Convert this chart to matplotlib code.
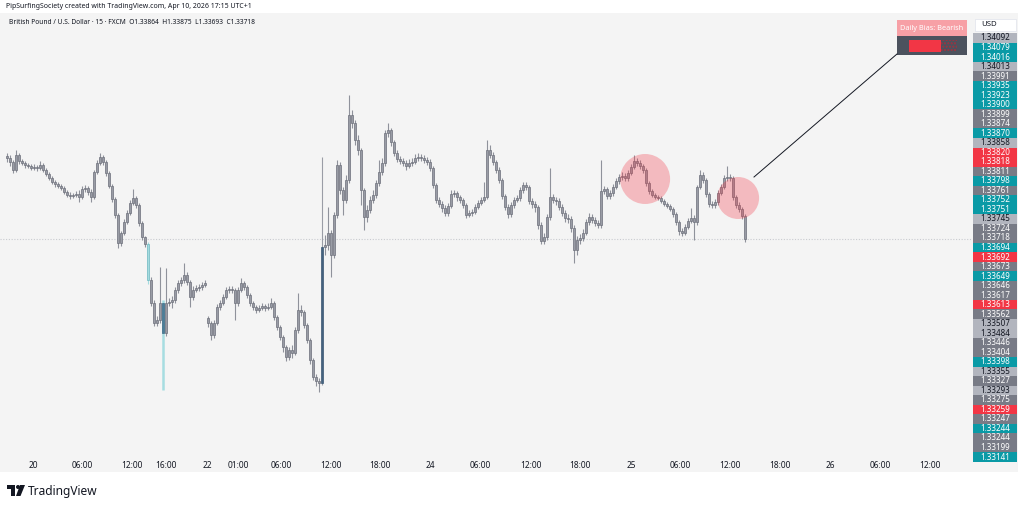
import matplotlib
matplotlib.use('Agg')
import matplotlib.pyplot as plt
from matplotlib.patches import Rectangle, Ellipse
from matplotlib.lines import Line2D
import matplotlib.transforms as mtransforms

plt.rcParams['font.family'] = ['Noto Sans', 'DejaVu Sans']

# ─── DATA (GBPUSD 15m) ───────────────────────────────────────────────────────

FIRST_OPEN = 1.34050
SESSION_OPENS = {67: 1.33402}   # gap after the weekend

CLOSE = [
    1.34042, 1.34026, 1.33994, 1.34054, 1.34030, 1.34022, 1.34014, 1.34010, 1.34002, 1.34006,
    1.34002, 1.34014, 1.33994, 1.33978, 1.33962, 1.33946, 1.33938, 1.33930, 1.33922, 1.33906,
    1.33894, 1.33890, 1.33894, 1.33898, 1.33886, 1.33918, 1.33922, 1.33906, 1.33886, 1.33986,
    1.34022, 1.34046, 1.34026, 1.33982, 1.33930, 1.33878, 1.33814, 1.33702, 1.33742, 1.33786,
    1.33822, 1.33862, 1.33882, 1.33854, 1.33782, 1.33726, 1.33698, 1.33554, 1.33462, 1.33382,
    1.33394, 1.33462, 1.33342, 1.33462, 1.33466, 1.33474, 1.33514, 1.33542, 1.33554, 1.33574,
    1.33546, 1.33486, 1.33514, 1.33522, 1.33526, 1.33534, 1.33542, 1.33382, 1.33334, 1.33382,
    1.33446, 1.33462, 1.33486, 1.33514, 1.33518, 1.33514, 1.33462, 1.33514, 1.33542, 1.33526,
    1.33494, 1.33462, 1.33446, 1.33434, 1.33442, 1.33450, 1.33442, 1.33446, 1.33462, 1.33406,
    1.33366, 1.33326, 1.33286, 1.33246, 1.33274, 1.33262, 1.33354, 1.33434, 1.33426, 1.33374,
    1.33314, 1.33234, 1.33166, 1.33150, 1.33142, 1.33686, 1.33694, 1.33742, 1.33654, 1.33814,
    1.34014, 1.33914, 1.33874, 1.33954, 1.34214, 1.34182, 1.34114, 1.34074, 1.33914, 1.33806,
    1.33834, 1.33874, 1.33894, 1.33942, 1.33986, 1.34022, 1.34142, 1.34154, 1.34106, 1.34062,
    1.34038, 1.34030, 1.34022, 1.34010, 1.34022, 1.34026, 1.34042, 1.34046, 1.34042, 1.34034,
    1.34026, 1.34002, 1.33934, 1.33874, 1.33858, 1.33842, 1.33822, 1.33850, 1.33898, 1.33902,
    1.33886, 1.33874, 1.33854, 1.33814, 1.33822, 1.33826, 1.33846, 1.33862, 1.33874, 1.33886,
    1.34074, 1.34054, 1.34026, 1.33994, 1.33954, 1.33890, 1.33846, 1.33818, 1.33854, 1.33874,
    1.33882, 1.33914, 1.33934, 1.33926, 1.33870, 1.33858, 1.33846, 1.33774, 1.33710, 1.33726,
    1.33806, 1.33886, 1.33874, 1.33870, 1.33846, 1.33822, 1.33802, 1.33798, 1.33762, 1.33674,
    1.33714, 1.33722, 1.33742, 1.33786, 1.33806, 1.33794, 1.33782, 1.33774, 1.33910, 1.33918,
    1.33890, 1.33902, 1.33926, 1.33950, 1.33966, 1.33970, 1.33962, 1.33982, 1.34006, 1.34030,
    1.34022, 1.34010, 1.33994, 1.33942, 1.33910, 1.33894, 1.33886, 1.33882, 1.33870, 1.33858,
    1.33850, 1.33838, 1.33818, 1.33786, 1.33750, 1.33742, 1.33766, 1.33790, 1.33802, 1.33786,
    1.33926, 1.33974, 1.33954, 1.33898, 1.33858, 1.33854, 1.33866, 1.33902, 1.33926, 1.33962,
    1.33966, 1.33962, 1.33886, 1.33854, 1.33838, 1.33810, 1.33718,
]

HIGH = [
    1.34062, 1.34054, 1.34034, 1.34074, 1.34062, 1.34038, 1.34030, 1.34022, 1.34018, 1.34018,
    1.34014, 1.34030, 1.34022, 1.34002, 1.33986, 1.33970, 1.33954, 1.33946, 1.33938, 1.33930,
    1.33914, 1.33906, 1.33902, 1.33910, 1.33914, 1.33930, 1.33934, 1.33930, 1.33918, 1.33994,
    1.34034, 1.34062, 1.34054, 1.34034, 1.33990, 1.33938, 1.33886, 1.33822, 1.33750, 1.33798,
    1.33834, 1.33874, 1.33918, 1.33890, 1.33862, 1.33790, 1.33730, 1.33706, 1.33566, 1.33474,
    1.33410, 1.33606, 1.33474, 1.33602, 1.33482, 1.33490, 1.33526, 1.33554, 1.33566, 1.33622,
    1.33586, 1.33554, 1.33530, 1.33534, 1.33538, 1.33546, 1.33554, 1.33410, 1.33390, 1.33394,
    1.33458, 1.33474, 1.33498, 1.33526, 1.33530, 1.33530, 1.33522, 1.33526, 1.33562, 1.33550,
    1.33534, 1.33502, 1.33470, 1.33454, 1.33454, 1.33462, 1.33458, 1.33462, 1.33482, 1.33470,
    1.33414, 1.33374, 1.33334, 1.33294, 1.33286, 1.33294, 1.33366, 1.33502, 1.33454, 1.33434,
    1.33382, 1.33322, 1.33242, 1.33178, 1.33162, 1.34046, 1.33734, 1.33846, 1.33754, 1.33826,
    1.34034, 1.34026, 1.33926, 1.33974, 1.34294, 1.34234, 1.34194, 1.34134, 1.34082, 1.33922,
    1.33854, 1.33890, 1.33914, 1.33954, 1.34034, 1.34042, 1.34154, 1.34182, 1.34162, 1.34114,
    1.34074, 1.34050, 1.34042, 1.34034, 1.34038, 1.34042, 1.34058, 1.34062, 1.34058, 1.34054,
    1.34046, 1.34038, 1.34010, 1.33942, 1.33886, 1.33870, 1.33854, 1.33862, 1.33914, 1.33914,
    1.33910, 1.33894, 1.33882, 1.33862, 1.33834, 1.33838, 1.33858, 1.33874, 1.33886, 1.33946,
    1.34114, 1.34094, 1.34066, 1.34034, 1.34006, 1.33962, 1.33898, 1.33858, 1.33866, 1.33886,
    1.33894, 1.33926, 1.33946, 1.33946, 1.33934, 1.33882, 1.33870, 1.33854, 1.33786, 1.33742,
    1.33818, 1.34002, 1.33898, 1.33886, 1.33882, 1.33858, 1.33834, 1.33818, 1.33810, 1.33774,
    1.33730, 1.33738, 1.33758, 1.33798, 1.33822, 1.33818, 1.33806, 1.33794, 1.34034, 1.33930,
    1.33926, 1.33914, 1.33938, 1.33962, 1.33978, 1.33986, 1.33982, 1.33994, 1.34018, 1.34054,
    1.34042, 1.34034, 1.34018, 1.34002, 1.33950, 1.33918, 1.33902, 1.33894, 1.33890, 1.33878,
    1.33866, 1.33858, 1.33846, 1.33826, 1.33794, 1.33762, 1.33778, 1.33802, 1.33842, 1.33814,
    1.33934, 1.33994, 1.33986, 1.33962, 1.33906, 1.33870, 1.33878, 1.33914, 1.33938, 1.33974,
    1.34010, 1.33978, 1.33970, 1.33894, 1.33866, 1.33846, 1.33818,
]

LOW = [
    1.34026, 1.34010, 1.33982, 1.33986, 1.34018, 1.34014, 1.34002, 1.34002, 1.33994, 1.33994,
    1.33990, 1.33994, 1.33986, 1.33970, 1.33954, 1.33938, 1.33926, 1.33922, 1.33914, 1.33898,
    1.33886, 1.33878, 1.33882, 1.33886, 1.33866, 1.33878, 1.33906, 1.33894, 1.33866, 1.33878,
    1.33978, 1.34014, 1.34014, 1.33970, 1.33922, 1.33866, 1.33802, 1.33682, 1.33690, 1.33734,
    1.33778, 1.33814, 1.33854, 1.33842, 1.33770, 1.33714, 1.33686, 1.33538, 1.33450, 1.33370,
    1.33370, 1.33382, 1.33114, 1.33330, 1.33450, 1.33442, 1.33462, 1.33502, 1.33530, 1.33542,
    1.33534, 1.33446, 1.33474, 1.33506, 1.33510, 1.33514, 1.33526, 1.33366, 1.33314, 1.33322,
    1.33374, 1.33434, 1.33454, 1.33478, 1.33502, 1.33502, 1.33394, 1.33450, 1.33506, 1.33514,
    1.33482, 1.33450, 1.33434, 1.33422, 1.33426, 1.33434, 1.33430, 1.33434, 1.33438, 1.33394,
    1.33354, 1.33314, 1.33266, 1.33230, 1.33234, 1.33242, 1.33254, 1.33342, 1.33410, 1.33362,
    1.33302, 1.33218, 1.33154, 1.33130, 1.33106, 1.33134, 1.33654, 1.33674, 1.33566, 1.33642,
    1.33802, 1.33898, 1.33814, 1.33862, 1.33942, 1.34162, 1.34094, 1.34054, 1.33854, 1.33754,
    1.33786, 1.33822, 1.33862, 1.33882, 1.33930, 1.33974, 1.34010, 1.34126, 1.34090, 1.34050,
    1.34026, 1.34018, 1.34010, 1.33994, 1.34002, 1.34010, 1.34018, 1.34030, 1.34030, 1.34022,
    1.34014, 1.33990, 1.33922, 1.33862, 1.33846, 1.33826, 1.33810, 1.33810, 1.33842, 1.33886,
    1.33870, 1.33862, 1.33842, 1.33802, 1.33806, 1.33810, 1.33818, 1.33838, 1.33854, 1.33866,
    1.33878, 1.34042, 1.34014, 1.33982, 1.33942, 1.33878, 1.33834, 1.33802, 1.33806, 1.33842,
    1.33866, 1.33870, 1.33902, 1.33914, 1.33858, 1.33842, 1.33826, 1.33758, 1.33698, 1.33698,
    1.33714, 1.33794, 1.33862, 1.33854, 1.33834, 1.33810, 1.33786, 1.33782, 1.33746, 1.33622,
    1.33654, 1.33698, 1.33710, 1.33734, 1.33774, 1.33782, 1.33770, 1.33762, 1.33762, 1.33898,
    1.33878, 1.33878, 1.33890, 1.33918, 1.33938, 1.33954, 1.33950, 1.33950, 1.33974, 1.33998,
    1.34010, 1.33998, 1.33982, 1.33930, 1.33898, 1.33886, 1.33878, 1.33874, 1.33862, 1.33850,
    1.33842, 1.33830, 1.33806, 1.33774, 1.33734, 1.33730, 1.33734, 1.33758, 1.33782, 1.33714,
    1.33774, 1.33918, 1.33942, 1.33886, 1.33846, 1.33842, 1.33842, 1.33854, 1.33894, 1.33918,
    1.33950, 1.33950, 1.33874, 1.33842, 1.33826, 1.33798, 1.33706,
]

# candles highlighted by an indicator: index -> kind
HIGHLIGHT = {47: 'cyan', 52: 'teal', 105: 'blue'}

# time axis (bar index, label)
TIME_POS = [8.7, 25, 41.7, 53, 66.7, 77, 91.3, 108, 124.3, 141, 157.7, 174.7,
            191, 208, 224.3, 241, 257.7, 274.3, 291, 307.7]
TIME_LABELS = ['20', '06:00', '12:00', '16:00', '22', '01:00', '06:00', '12:00', '18:00',
               '24', '06:00', '12:00', '18:00', '25', '06:00', '12:00', '18:00', '26',
               '06:00', '12:00']

# stacked price labels on the right scale
AXIS_LABELS = ['1.34092', '1.34079', '1.34016', '1.34013', '1.33991', '1.33935', '1.33923',
               '1.33900', '1.33899', '1.33874', '1.33870', '1.33858', '1.33820', '1.33818',
               '1.33811', '1.33798', '1.33761', '1.33752', '1.33751', '1.33745', '1.33724',
               '1.33718', '1.33694', '1.33692', '1.33673', '1.33649', '1.33646', '1.33617',
               '1.33613', '1.33562', '1.33507', '1.33484', '1.33446', '1.33404', '1.33398',
               '1.33355', '1.33327', '1.33293', '1.33275', '1.33259', '1.33247', '1.33244',
               '1.33244', '1.33199', '1.33141']
AXIS_KINDS = ['light', 'teal', 'teal', 'light', 'gray', 'teal', 'teal',
              'teal', 'gray', 'gray', 'teal', 'light', 'red', 'red',
              'gray', 'teal', 'gray', 'teal', 'teal', 'light', 'gray',
              'gray', 'teal', 'red', 'gray', 'teal', 'gray', 'gray',
              'red', 'gray', 'light', 'light', 'gray', 'gray', 'teal',
              'light', 'gray', 'light', 'gray', 'red', 'gray', 'teal',
              'gray', 'gray', 'teal']

# bearish zones marked on the chart (bar index, price, radius px)
ZONES = [(212.7, 1.33958, 25), (243.7, 1.33882, 21)]
LAST_PRICE = CLOSE[-1]

# ─── LAYOUT ──────────────────────────────────────────────────────────────────

W, H = 1024, 507
PX_PER_BAR = 3.0
PRICE_PER_PX = 0.00004


def fx(px):
    return px / W


def fy(py):
    return 1 - py / H


fig = plt.figure(figsize=(W / 100, H / 100), dpi=100, facecolor='white')

# chart panel background
fig.add_artist(Rectangle((0, fy(472)), fx(1018), fy(13) - fy(472),
                         transform=fig.transFigure, facecolor='#f4f4f4',
                         edgecolor='none', zorder=0))

ax = fig.add_axes([0, fy(457), fx(972), fy(13) - fy(457)])
ax.patch.set_alpha(0)
for s in ax.spines.values():
    s.set_visible(False)
ax.set_xticks([])
ax.set_yticks([])

x0 = -7 / PX_PER_BAR
ax.set_xlim(x0, x0 + 972 / PX_PER_BAR)
top_price = LAST_PRICE + (239 - 13) * PRICE_PER_PX
ax.set_ylim(top_price - 444 * PRICE_PER_PX, top_price)

# last price line
ax.axhline(LAST_PRICE, color='#c9cbd0', lw=0.8, ls=(0, (1, 1.5)), zorder=1)

# candles
opens = [FIRST_OPEN] + CLOSE[:-1]
for i, p in SESSION_OPENS.items():
    opens[i] = p

# face, edge, wick, wick width
styles = {
    None: ('#999ca5', '#6c6f7a', '#8f929b', 0.8),
    'cyan': ('#a4dbdf', '#6cb8c0', '#a4dbdf', 0.8),
    'teal': ('#4d7e98', '#3d6a85', '#a6dde1', 1.8),
    'blue': ('#44627f', '#3b5773', '#9a9da6', 0.8),
}
for i, (o, h, l, c) in enumerate(zip(opens, HIGH, LOW, CLOSE)):
    face, edge, wick, wlw = styles[HIGHLIGHT.get(i)]
    ax.vlines(i, l, h, color=wick, lw=wlw, zorder=2)
    body = max(abs(c - o), 0.000025)
    ax.bar(i, body, bottom=min(o, c), width=0.75, color=face,
           edgecolor=edge, linewidth=0.5, zorder=3)

# marked zones
for bx, by, r in ZONES:
    ax.add_patch(Ellipse((bx, by), 2 * r / PX_PER_BAR, 2 * r * PRICE_PER_PX,
                         facecolor='#f23645', alpha=0.3, edgecolor='none', zorder=4))

# time axis labels
trans = mtransforms.blended_transform_factory(ax.transData, ax.transAxes)
for pos, lab in zip(TIME_POS, TIME_LABELS):
    day = ':' not in lab
    ax.text(pos, -8 / 444, lab, transform=trans, ha='center', va='center',
            fontsize=6, color='#131722', fontweight='bold' if day else 'normal',
            clip_on=False)

# price scale labels
step = (457 - 38) / (len(AXIS_LABELS) - 1)
kind_colors = {'teal': ('#0a9aa6', 'white'), 'gray': ('#787b86', 'white'),
               'light': ('#b2b5be', '#131722'), 'red': ('#f23645', 'white')}
for k, (lab, kind) in enumerate(zip(AXIS_LABELS, AXIS_KINDS)):
    yc = 38 + k * step
    bg, fg = kind_colors[kind]
    fig.add_artist(Rectangle((fx(973), fy(yc + step / 2)), fx(44), step / H,
                             transform=fig.transFigure, facecolor=bg,
                             edgecolor='none', zorder=5))
    fig.text(fx(995), fy(yc), lab, ha='center', va='center', fontsize=5.8,
             color=fg, zorder=6)

# USD box
fig.add_artist(Rectangle((fx(975), fy(31)), fx(41), 12 / H, transform=fig.transFigure,
                         facecolor='white', edgecolor='#e0e3eb', lw=0.5, zorder=5))
fig.text(fx(981), fy(25), 'USD', ha='left', va='center', fontsize=5.6,
         color='#131722', zorder=6)

# daily bias widget
fig.add_artist(Rectangle((fx(897), fy(36)), fx(70), 16 / H, transform=fig.transFigure,
                         facecolor='#f7a0a6', edgecolor='none', zorder=5))
fig.text(fx(932), fy(28), 'Daily Bias: Bearish', ha='center', va='center',
         fontsize=5.3, color='white', fontweight='bold', zorder=6)
fig.add_artist(Rectangle((fx(897), fy(55)), fx(70), 19 / H, transform=fig.transFigure,
                         facecolor='#4c525e', edgecolor='none', zorder=5))
fig.add_artist(Rectangle((fx(909), fy(52)), fx(32), 12 / H, transform=fig.transFigure,
                         facecolor='#f23645', edgecolor='none', zorder=6))
fig.add_artist(Rectangle((fx(941), fy(52)), fx(16), 12 / H, transform=fig.transFigure,
                         facecolor='none', edgecolor='#a5303d', hatch='.....',
                         lw=0, zorder=6))
fig.add_artist(Line2D([fx(754), fx(897)], [fy(177), fy(54)], transform=fig.transFigure,
                      color='#131722', lw=0.7, zorder=6))

# header
fig.text(fx(6), fy(6), 'PipSurfingSociety created with TradingView.com, Apr 10, 2026 17:15 UTC+1',
         ha='left', va='center', fontsize=5.0, color='#131722')
fig.text(fx(9), fy(22), 'British Pound / U.S. Dollar \u00b7 15 \u00b7 FXCM  O1.33864  H1.33875  L1.33693  C1.33718',
         ha='left', va='center', fontsize=4.8, color='#131722')

# TradingView logo
logo = '#131722'
fig.add_artist(Rectangle((fx(7), fy(489)), fx(8), 4 / H, transform=fig.transFigure,
                         facecolor=logo, edgecolor='none'))
fig.add_artist(Rectangle((fx(11), fy(496)), fx(4), 11 / H, transform=fig.transFigure,
                         facecolor=logo, edgecolor='none'))
fig.add_artist(Ellipse((fx(18), fy(487)), fx(4), 4 / H, transform=fig.transFigure,
                       facecolor=logo, edgecolor='none'))
fig.add_artist(plt.Polygon([(fx(20), fy(485)), (fx(25), fy(485)), (fx(20.5), fy(496)),
                            (fx(16), fy(496))], closed=True, transform=fig.transFigure,
                           facecolor=logo, edgecolor='none'))
fig.text(fx(28), fy(491), 'TradingView', ha='left', va='center', fontsize=8.6,
         color=logo, fontweight='bold')

fig.savefig('out.png', dpi=100, facecolor='white')
